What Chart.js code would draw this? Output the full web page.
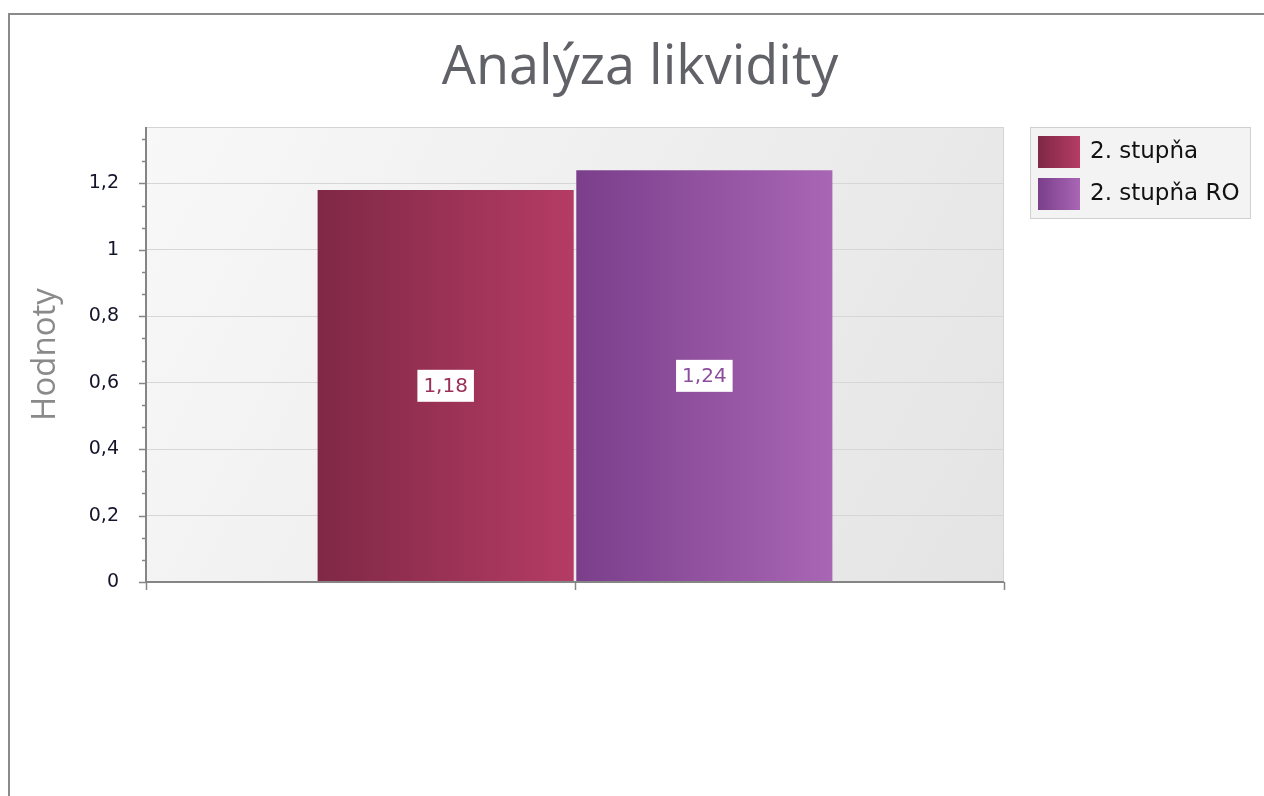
<!DOCTYPE html>
<html lang="cs">
<head>
<meta charset="utf-8">
<title>Analýza likvidity</title>
<script src="https://cdn.jsdelivr.net/npm/chart.js@4/dist/chart.umd.min.js"></script>
<style>
    html, body { margin: 0; padding: 0; background: #fff; }
    #wrap { width: 1264px; height: 796px; position: relative; }
</style>
</head>
<body>
<div id="wrap"><canvas id="likviditaChart" width="1264" height="796"></canvas></div>
<script>
// data
const chartTitle = 'Analýza likvidity';
const categories = [''];
const seriesNames = ['2. stupňa', '2. stupňa RO'];
const stupna = [1.18];
const stupnaRO = [1.24];
const yTicks = [0, 0.2, 0.4, 0.6, 0.8, 1, 1.2];

// gradient colours for each series (left -> right)
const barColors = [
    ['#7f2846', '#b53c64'],
    ['#7a3e8b', '#a966b5']
];
const labelColors = ['#9a2f58', '#8c4c9e'];

const CAT_PCT = 0.603;
const BAR_PCT = 0.99;

const fmt = v => String(v).replace('.', ',');

function barGradient(ctx) {
    const chart = ctx.chart;
    const xs = chart.scales.x;
    const i = ctx.datasetIndex;
    if (!xs || !chart.chartArea) return barColors[i][0];
    const catW = xs.width / categories.length;
    const half = catW * CAT_PCT / 2;
    const center = xs.getPixelForValue(ctx.dataIndex);
    const left = center - half + i * half;
    const g = chart.ctx.createLinearGradient(left, 0, left + half, 0);
    g.addColorStop(0, barColors[i][0]);
    g.addColorStop(1, barColors[i][1]);
    return g;
}

// frame, title, plot background, minor ticks, data labels, legend
const decorPlugin = {
    id: 'decor',
    beforeDraw(chart) {
        const c = chart.ctx;
        const a = chart.chartArea;
        c.save();
        c.strokeStyle = '#8a8a8a';
        c.lineWidth = 2;
        c.beginPath();
        c.moveTo(9, 796);
        c.lineTo(9, 14);
        c.lineTo(1264, 14);
        c.stroke();

        c.fillStyle = '#616168';
        c.font = '54px "Open Sans"';
        c.textAlign = 'center';
        c.textBaseline = 'alphabetic';
        c.fillText(chartTitle, 640, 84);

        const g = c.createLinearGradient(a.left, a.top, a.right, a.bottom);
        g.addColorStop(0, '#f8f8f8');
        g.addColorStop(1, '#e4e4e4');
        c.fillStyle = g;
        c.fillRect(a.left, a.top, a.right - a.left, a.bottom - a.top);
        c.strokeStyle = '#d4d4d4';
        c.lineWidth = 1;
        c.strokeRect(a.left + 0.5, a.top + 0.5, a.right - a.left - 1, a.bottom - a.top);
        c.restore();
    },
    afterDraw(chart) {
        const c = chart.ctx;
        const a = chart.chartArea;
        const ys = chart.scales.y;
        const xs = chart.scales.x;
        c.save();
        c.strokeStyle = '#858585';
        c.lineWidth = 2;
        // axis lines
        c.beginPath();
        c.moveTo(a.left, a.top);
        c.lineTo(a.left, a.bottom);
        c.lineTo(a.right, a.bottom);
        c.stroke();
        c.lineWidth = 1.5;
        // y ticks: major every 0.2, minor in thirds
        for (let k = 0; k * 0.2 / 3 <= ys.max + 1e-9; k++) {
            const y = Math.round(ys.getPixelForValue(k * 0.2 / 3)) + 0.5;
            const len = k % 3 === 0 ? 7 : 4;
            c.beginPath();
            c.moveTo(a.left - len, y);
            c.lineTo(a.left, y);
            c.stroke();
        }
        // x ticks at edges and category centres
        const xt = [a.left, a.right];
        categories.forEach((_, i) => xt.push(xs.getPixelForValue(i)));
        xt.forEach(x => {
            c.beginPath();
            c.moveTo(Math.round(x) + 0.5, a.bottom);
            c.lineTo(Math.round(x) + 0.5, a.bottom + 8);
            c.stroke();
        });

        // value labels in the middle of each bar
        c.font = '20px "DejaVu Sans"';
        c.textAlign = 'center';
        c.textBaseline = 'middle';
        chart.data.datasets.forEach((ds, di) => {
            chart.getDatasetMeta(di).data.forEach((el, j) => {
                const txt = fmt(ds.data[j]);
                const cy = (el.y + el.base) / 2;
                const w = c.measureText(txt).width + 12;
                c.fillStyle = '#ffffff';
                c.fillRect(el.x - w / 2, cy - 16, w, 32);
                c.fillStyle = labelColors[di];
                c.fillText(txt, el.x, cy + 1);
            });
        });

        // legend box
        const lx = 1030, ly = 127;
        c.fillStyle = '#f3f3f3';
        c.fillRect(lx, ly, 220, 91);
        c.strokeStyle = '#d0d0d0';
        c.lineWidth = 1;
        c.strokeRect(lx + 0.5, ly + 0.5, 220, 91);
        c.font = '23px "DejaVu Sans"';
        c.textAlign = 'left';
        seriesNames.forEach((name, i) => {
            const sy = ly + 9 + i * 42;
            const g = c.createLinearGradient(lx + 8, 0, lx + 50, 0);
            g.addColorStop(0, barColors[i][0]);
            g.addColorStop(1, barColors[i][1]);
            c.fillStyle = g;
            c.fillRect(lx + 8, sy, 42, 32);
            c.fillStyle = '#111';
            c.fillText(name, lx + 60, sy + 16);
        });
        c.restore();
    }
};

new Chart(document.getElementById('likviditaChart'), {
    type: 'bar',
    data: {
        labels: categories,
        datasets: [
            { label: seriesNames[0], data: stupna, backgroundColor: barGradient },
            { label: seriesNames[1], data: stupnaRO, backgroundColor: barGradient }
        ]
    },
    options: {
        responsive: false,
        animation: false,
        categoryPercentage: CAT_PCT,
        barPercentage: BAR_PCT,
        layout: { padding: { top: 127, left: 26, right: 260, bottom: 0 } },
        plugins: {
            legend: { display: false },
            tooltip: { enabled: false },
            title: { display: false }
        },
        scales: {
            x: {
                grid: { display: false, drawTicks: false },
                border: { display: false },
                ticks: { display: false },
                afterFit(s) { s.height = 214; }
            },
            y: {
                min: 0,
                max: 1.37,
                afterFit(s) { s.width = 120; },
                afterBuildTicks(s) { s.ticks = yTicks.map(v => ({ value: v })); },
                grid: { color: '#d6d6d6', lineWidth: 1, drawTicks: false },
                border: { display: false },
                ticks: {
                    color: '#14142a',
                    padding: 27,
                    font: { family: '"DejaVu Sans"', size: 19 },
                    callback: v => fmt(v)
                },
                title: {
                    display: true,
                    text: 'Hodnoty',
                    color: '#8a8a8a',
                    font: { family: '"Open Sans"', size: 33 },
                    padding: { top: 0, bottom: 0 }
                }
            }
        }
    },
    plugins: [decorPlugin]
});
</script>
</body>
</html>
